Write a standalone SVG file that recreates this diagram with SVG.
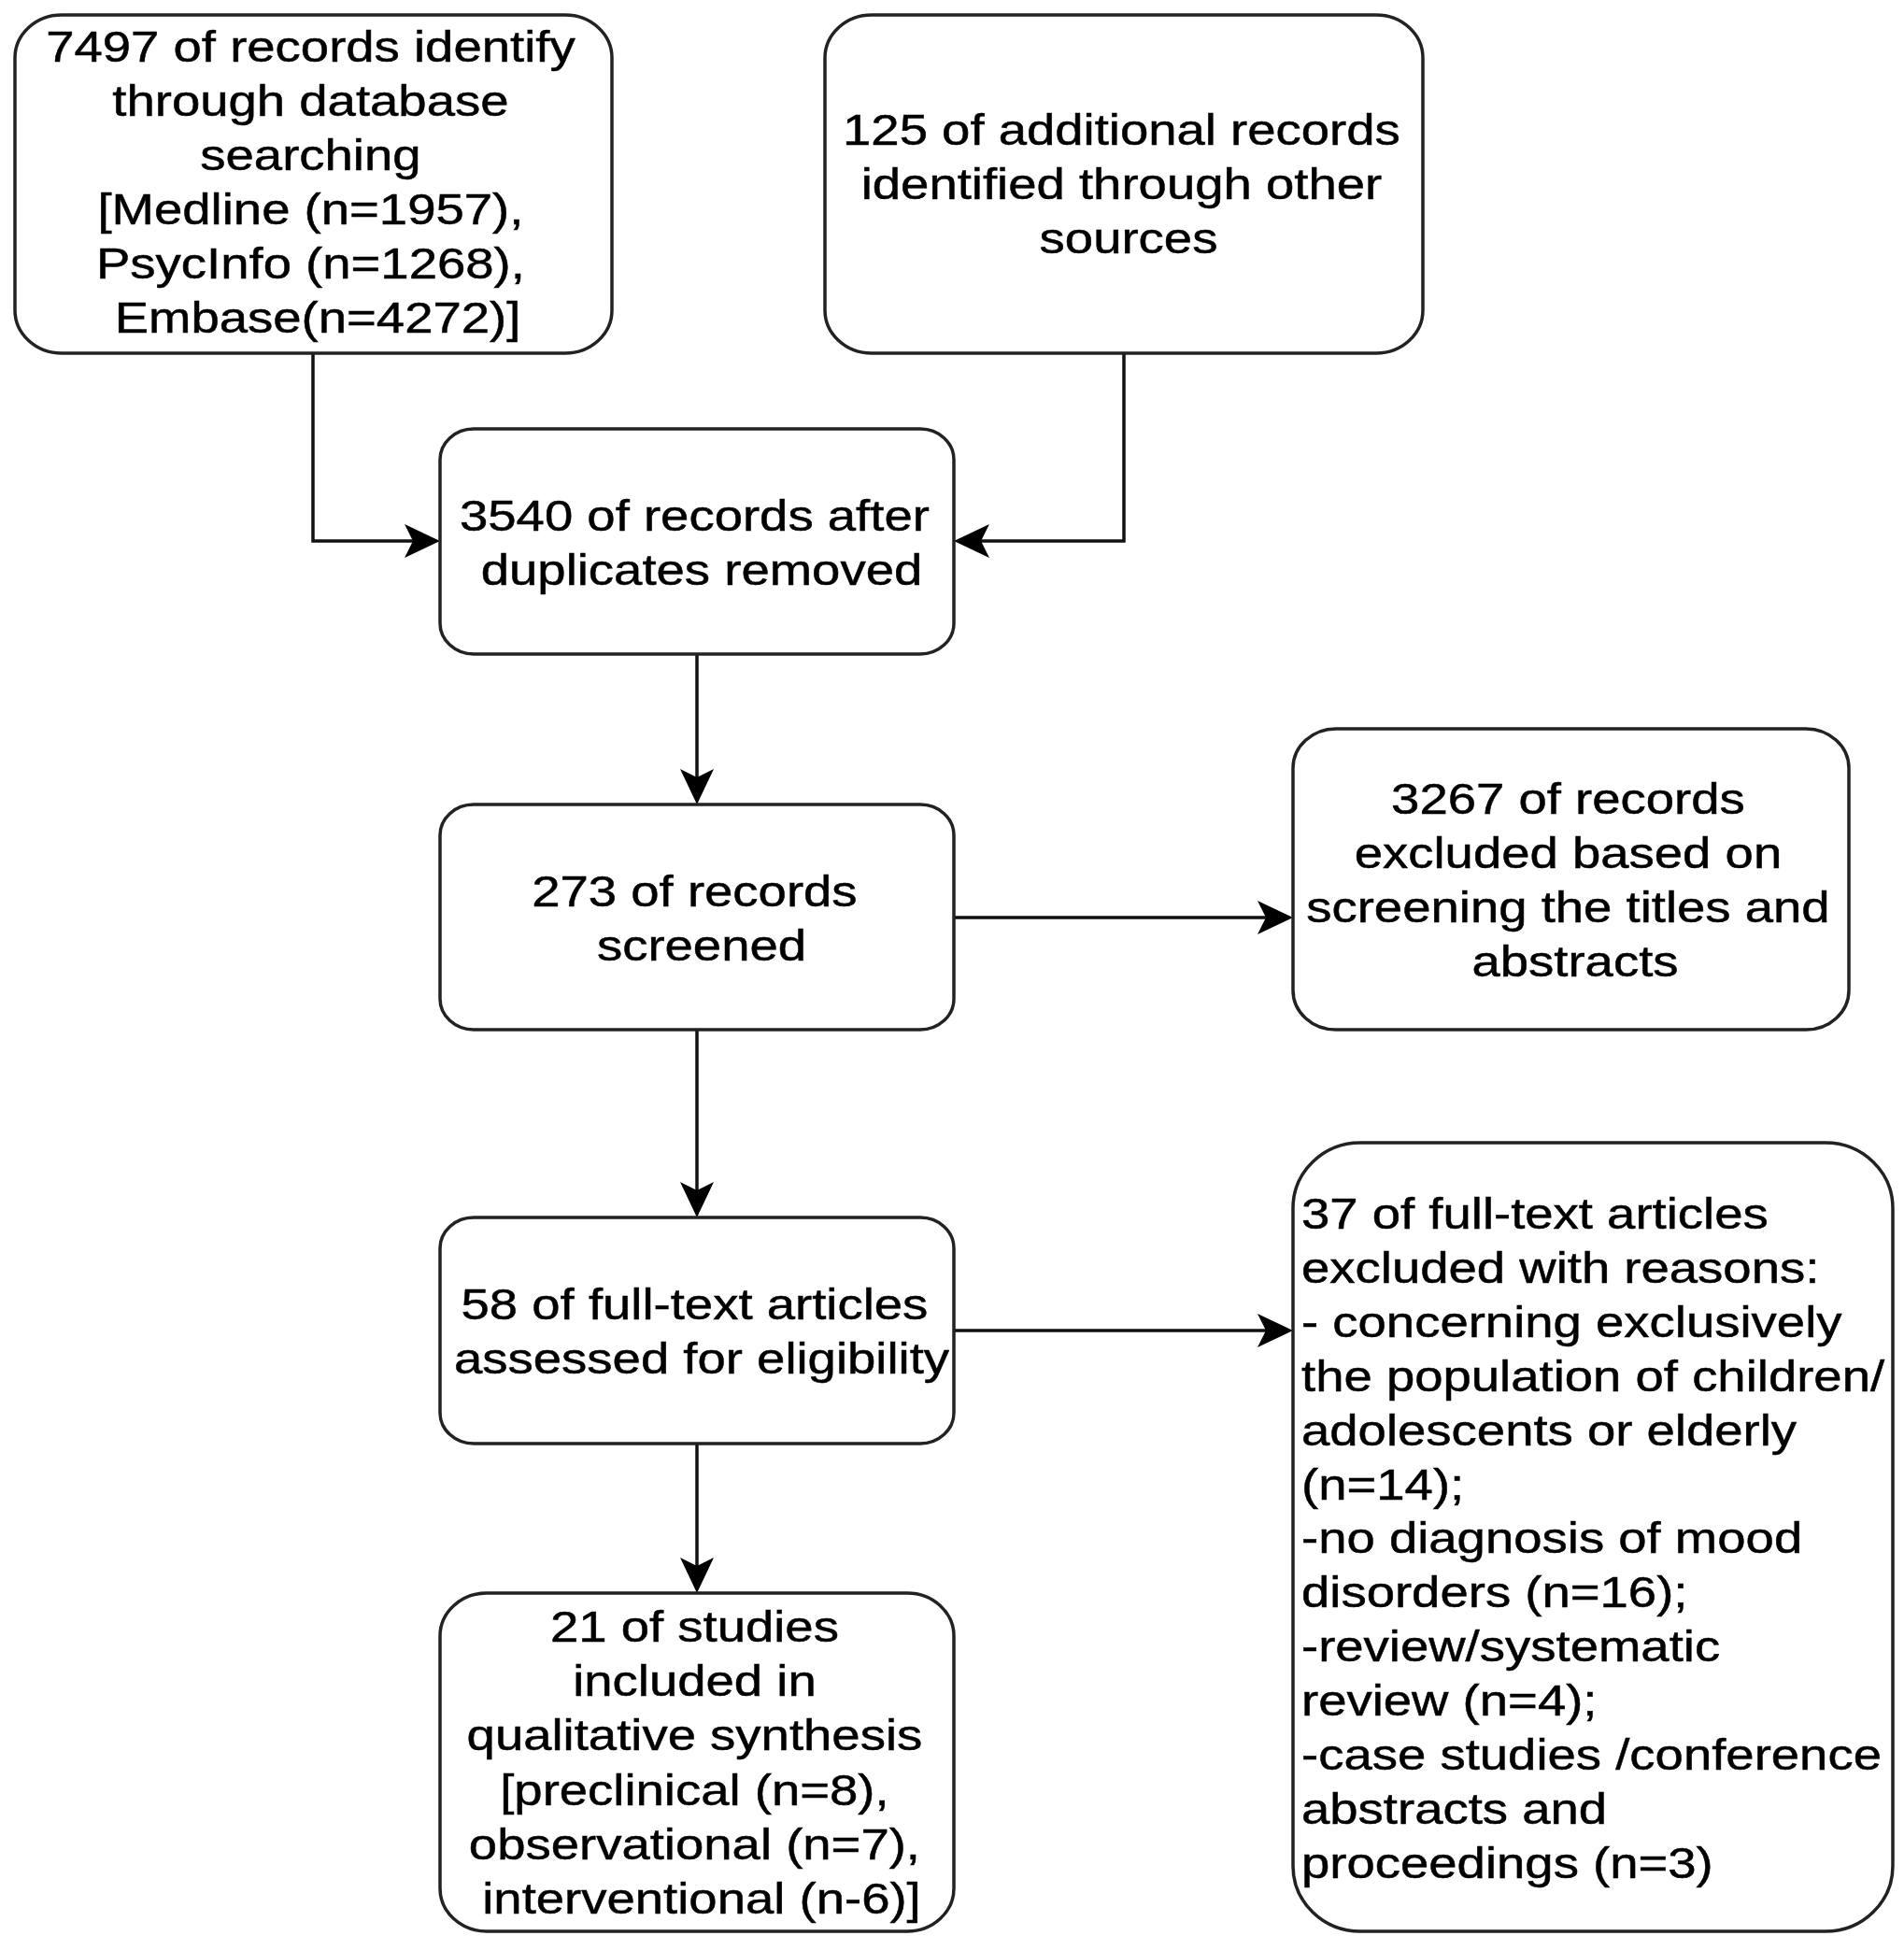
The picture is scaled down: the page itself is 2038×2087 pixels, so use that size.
<svg xmlns="http://www.w3.org/2000/svg" width="2038" height="2087" viewBox="0 0 2038 2087">
<style>
.box{fill:#fff;stroke:#222;stroke-width:3.5}
.t{font-family:"Liberation Sans",Arial,sans-serif;font-size:47px;fill:#000;stroke:#000;stroke-width:0.5}
.c{fill:none;stroke:#111;stroke-width:3.5}
</style>
<defs>
<marker id="arr" markerUnits="userSpaceOnUse" markerWidth="40" markerHeight="40" viewBox="0 -20 40 40" refX="18" refY="0" orient="auto">
<path d="M0,-18 L38,0 L0,18 L9,0 Z" fill="#000"/>
</marker>
</defs>
<rect width="2038" height="2087" fill="#fff"/>
<g id="connectors">
<path class="c" d="M335 378 V579 H451" marker-end="url(#arr)"/>
<path class="c" d="M1203 378 V579 H1041" marker-end="url(#arr)"/>
<path class="c" d="M746 700 V841" marker-end="url(#arr)"/>
<path class="c" d="M1021 982 H1364" marker-end="url(#arr)"/>
<path class="c" d="M746 1102 V1283" marker-end="url(#arr)"/>
<path class="c" d="M1021 1424 H1364" marker-end="url(#arr)"/>
<path class="c" d="M746 1545 V1685" marker-end="url(#arr)"/>
</g>
<g id="n1">
<rect class="box" x="16" y="16" width="639" height="362" rx="50" ry="46"/>
<g transform="translate(340 0) scale(1.16 1)"><text class="t" text-anchor="middle">
<tspan x="0" y="66">7497 of records identify</tspan>
<tspan x="0" y="124">through database</tspan>
<tspan x="0" y="182">searching</tspan>
<tspan x="0" y="240">[Medline (n=1957),</tspan>
<tspan x="0" y="298">PsycInfo (n=1268),</tspan>
<tspan x="0" y="356">Embase(n=4272)]</tspan>
</text></g>
</g>
<g id="n2">
<rect class="box" x="883" y="16" width="640" height="362" rx="50" ry="46"/>
<g transform="translate(1208 0) scale(1.16 1)"><text class="t" text-anchor="middle">
<tspan x="0" y="155">125 of additional records</tspan>
<tspan x="0" y="213">identified through other</tspan>
<tspan x="0" y="271">sources</tspan>
</text></g>
</g>
<g id="n3">
<rect class="box" x="471" y="459" width="550" height="241" rx="36" ry="33"/>
<g transform="translate(751 0) scale(1.16 1)"><text class="t" text-anchor="middle">
<tspan x="0" y="568">3540 of records after</tspan>
<tspan x="0" y="626">duplicates removed</tspan>
</text></g>
</g>
<g id="n4">
<rect class="box" x="471" y="861" width="550" height="241" rx="36" ry="33"/>
<g transform="translate(751 0) scale(1.16 1)"><text class="t" text-anchor="middle">
<tspan x="0" y="970">273 of records</tspan>
<tspan x="0" y="1028">screened</tspan>
</text></g>
</g>
<g id="n5">
<rect class="box" x="1384" y="780" width="595" height="322" rx="46" ry="42"/>
<g transform="translate(1686 0) scale(1.16 1)"><text class="t" text-anchor="middle">
<tspan x="0" y="871">3267 of records</tspan>
<tspan x="0" y="929">excluded based on</tspan>
<tspan x="0" y="987">screening the titles and</tspan>
<tspan x="0" y="1045">abstracts</tspan>
</text></g>
</g>
<g id="n6">
<rect class="box" x="471" y="1303" width="550" height="242" rx="36" ry="33"/>
<g transform="translate(751 0) scale(1.16 1)"><text class="t" text-anchor="middle">
<tspan x="0" y="1412">58 of full-text articles</tspan>
<tspan x="0" y="1470">assessed for eligibility</tspan>
</text></g>
</g>
<g id="n7">
<rect class="box" x="1384" y="1223" width="642" height="844" rx="72" ry="70"/>
<g transform="translate(1393 0) scale(1.16 1)"><text class="t">
<tspan x="0" y="1315">37 of full-text articles</tspan>
<tspan x="0" y="1373">excluded with reasons:</tspan>
<tspan x="0" y="1431">- concerning exclusively</tspan>
<tspan x="0" y="1489">the population of children/</tspan>
<tspan x="0" y="1547">adolescents or elderly</tspan>
<tspan x="0" y="1605">(n=14);</tspan>
<tspan x="0" y="1662">-no diagnosis of mood</tspan>
<tspan x="0" y="1720">disorders (n=16);</tspan>
<tspan x="0" y="1778">-review/systematic</tspan>
<tspan x="0" y="1836">review (n=4);</tspan>
<tspan x="0" y="1894">-case studies /conference</tspan>
<tspan x="0" y="1952">abstracts and</tspan>
<tspan x="0" y="2010">proceedings (n=3)</tspan>
</text></g>
</g>
<g id="n8">
<rect class="box" x="471" y="1705" width="550" height="362" rx="50" ry="46"/>
<g transform="translate(751 0) scale(1.16 1)"><text class="t" text-anchor="middle">
<tspan x="0" y="1757">21 of studies</tspan>
<tspan x="0" y="1815">included in</tspan>
<tspan x="0" y="1873">qualitative synthesis</tspan>
<tspan x="0" y="1932">[preclinical (n=8),</tspan>
<tspan x="0" y="1990">observational (n=7),</tspan>
<tspan x="0" y="2048">interventional (n-6)]</tspan>
</text></g>
</g>
</svg>
